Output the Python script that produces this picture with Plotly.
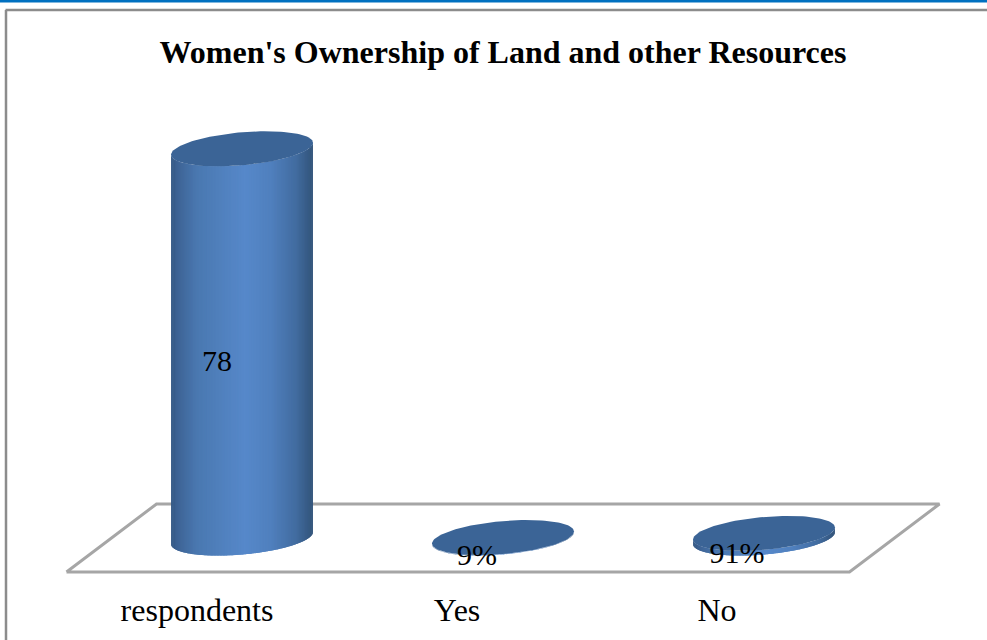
import numpy as np
import plotly.graph_objects as go

# ---- data
categories = ["respondents", "Yes", "No"]
values = [78, 0.09, 0.91]
value_labels = ["78", "9%", "91%"]
title_text = "<b>Women's Ownership of Land and other Resources</b>"

# ---- pseudo-3D geometry, in pixels of the reference, converted through the axes
W, H = 987, 640
PLOT_BOTTOM = 588
X0_PX, CAT_PX = 197.0, 261.0
Y0_PX, VAL_PX = 538.0, 4.99
ux = 1 / CAT_PX
uy = 1 / VAL_PX
DEPTH = 45 * ux            # shift from the front edge to the bar row
RX, SHEAR, RY = 71 * ux, 6 * uy, 16.5 * uy
FLOOR_Y = 34 * uy
FLOOR_SKEW = 90 * ux
TICK_STEP = 260 / CAT_PX   # the labels sit slightly tighter than the bars

SERIF = "Liberation Serif, Times New Roman, serif"
TOP_COLOR = "#3B6496"
FLOOR_COLOR = "#A6A6A6"
stops_f = [0.0, 0.05, 0.18, 0.52, 0.70, 0.88, 1.0]
stops_c = [(52, 88, 132), (62, 100, 150), (74, 120, 176), (86, 136, 202),
           (80, 128, 190), (66, 108, 160), (50, 84, 122)]


def shade(f):
    c = [np.interp(f, stops_f, [s[k] for s in stops_c]) for k in range(3)]
    return "rgb({:.0f},{:.0f},{:.0f})".format(*c)


def py_paper(px_from_top):
    """Paper fraction for a pixel row, paper being the plot area."""
    return 1 - px_from_top / PLOT_BOTTOM


fig = go.Figure()

# floor
fx = [-0.5, 2.5, 2.5 + FLOOR_SKEW, -0.5 + FLOOR_SKEW, -0.5]
fy = [-FLOOR_Y, -FLOOR_Y, FLOOR_Y, FLOOR_Y, -FLOOR_Y]
fig.add_trace(go.Scatter(x=fx, y=fy, mode="lines",
                         line=dict(color=FLOOR_COLOR, width=3),
                         hoverinfo="skip", showlegend=False))

N = 140
for i, v in enumerate(values):
    cx = i + DEPTH
    edges = np.linspace(np.pi, 2 * np.pi, N + 1)
    for j in range(N):
        t = np.linspace(edges[j], min(edges[j + 1] + 0.03, 2 * np.pi), 3)
        ex = cx + RX * np.cos(t)
        ey_off = SHEAR * np.cos(t) + RY * np.sin(t)
        px = np.r_[ex, ex[::-1]]
        py = np.r_[ey_off, (ey_off + v)[::-1]]
        f = (np.cos(edges[j]) + np.cos(edges[j + 1])) / 4 + 0.5
        fig.add_trace(go.Scatter(x=px, y=py, mode="lines", fill="toself",
                                 fillcolor=shade(f), line=dict(width=0),
                                 hoverinfo="skip", showlegend=False))
    t = np.linspace(0, 2 * np.pi, 121)
    fig.add_trace(go.Scatter(x=cx + RX * np.cos(t),
                             y=v + SHEAR * np.cos(t) + RY * np.sin(t),
                             mode="lines", fill="toself", fillcolor=TOP_COLOR,
                             line=dict(width=0), hoverinfo="skip", showlegend=False))

# value labels
fig.add_trace(go.Scatter(
    x=[i * TICK_STEP + DEPTH - 25 * ux for i in range(len(values))],
    y=[v / 2 - 20 * uy for v in values],
    mode="text", text=value_labels, textposition="middle center",
    textfont=dict(family=SERIF, size=30, color="black"),
    hoverinfo="skip", showlegend=False))

fig.update_layout(
    width=W, height=H,
    margin=dict(l=0, r=0, t=0, b=H - PLOT_BOTTOM),
    paper_bgcolor="white", plot_bgcolor="white",
    showlegend=False,
    title=dict(text=title_text, x=503 / W, xanchor="center",
               y=1 - 52 / H, yanchor="middle",
               font=dict(family=SERIF, size=32, color="black")),
    xaxis=dict(range=[-X0_PX / CAT_PX, (W - X0_PX) / CAT_PX],
               tickmode="array",
               tickvals=[i * TICK_STEP for i in range(len(categories))],
               ticktext=categories, showgrid=False, zeroline=False,
               showline=False, ticks="", automargin=False,
               tickfont=dict(family=SERIF, size=32, color="black")),
    yaxis=dict(range=[-(PLOT_BOTTOM - Y0_PX) / VAL_PX, Y0_PX / VAL_PX],
               visible=False, showgrid=False, zeroline=False, fixedrange=True),
    shapes=[
        dict(type="rect", xref="paper", yref="paper", x0=0, x1=1,
             y0=py_paper(2.6), y1=py_paper(0), fillcolor="#0070C0", line=dict(width=0)),
        dict(type="line", xref="paper", yref="paper", x0=5.5 / W, x1=1,
             y0=py_paper(10), y1=py_paper(10), line=dict(color="#8C8C8C", width=2.5)),
        dict(type="line", xref="paper", yref="paper", x0=6 / W, x1=6 / W,
             y0=py_paper(H), y1=py_paper(10), line=dict(color="#8C8C8C", width=2.5)),
    ],
)

fig.write_html("out.html", config={"displayModeBar": False},
               post_script="document.body.style.margin='0';")
